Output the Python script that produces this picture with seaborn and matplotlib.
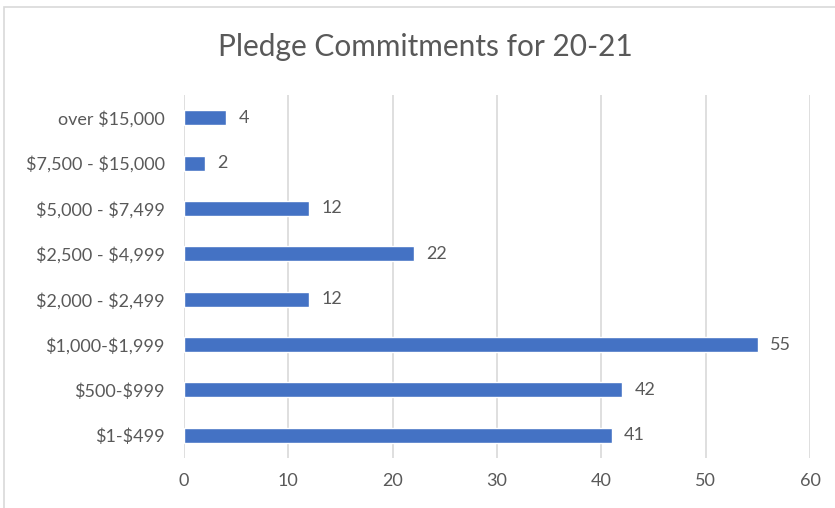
import pandas as pd
import numpy as np
import matplotlib.pyplot as plt
import seaborn as sns
from matplotlib.patches import Rectangle

### data
categories = ["over $15,000", "$7,500 - $15,000", "$5,000 - $7,499", "$2,500 - $4,999",
              "$2,000 - $2,499", "$1,000-$1,999", "$500-$999", "$1-$499"]
counts = [4, 2, 12, 22, 12, 55, 42, 41]
x_ticks = [0, 10, 20, 30, 40, 50, 60]

df = pd.DataFrame({"range": categories, "count": counts})

sns.set_style("white")
plt.rcParams['font.family'] = ['Lato', 'DejaVu Sans']
plt.rcParams['text.parse_math'] = False

text_col = "#595959"
bar_col = "#4472C4"

fig = plt.figure(figsize = (8.35, 5.08), dpi = 100)
ax = fig.add_axes([0.2204, 0.0984, 0.7496, 0.7146])

sns.barplot(data = df, x = "count", y = "range", color = bar_col, width = 0.33,
            saturation = 1, ax = ax, zorder = 3)

### value labels
for bar, v in zip(ax.patches, counts) :
    ax.annotate(str(v), (bar.get_width(), bar.get_y() + bar.get_height() / 2),
                xytext = (9, 0), textcoords = "offset points", va = "center", ha = "left",
                fontsize = 13, color = text_col)

ax.set_xlim(0, 60)
ax.set_xticks(x_ticks)
ax.xaxis.grid(True, color = "#D9D9D9", linewidth = 1.2, zorder = 0)
ax.set_axisbelow(True)
for s in ax.spines.values() :
    s.set_visible(False)
ax.tick_params(axis = "x", length = 0, pad = 11, labelsize = 13, labelcolor = text_col)
ax.tick_params(axis = "y", length = 0, pad = 14, labelsize = 13, labelcolor = text_col)
ax.set_xlabel("")
ax.set_ylabel("")

fig.text(0.51, 0.907, "Pledge Commitments for 20-21", ha = "center", va = "center",
         fontsize = 21.5, color = text_col)

### light chart border
fig.patches.append(Rectangle((4 / 835, -0.01), 1.0, 1 - 7 / 508 + 0.01, transform = fig.transFigure,
                             fill = False, edgecolor = "#D9D9D9", linewidth = 1.2))

fig.savefig("out.png", dpi = 100)
